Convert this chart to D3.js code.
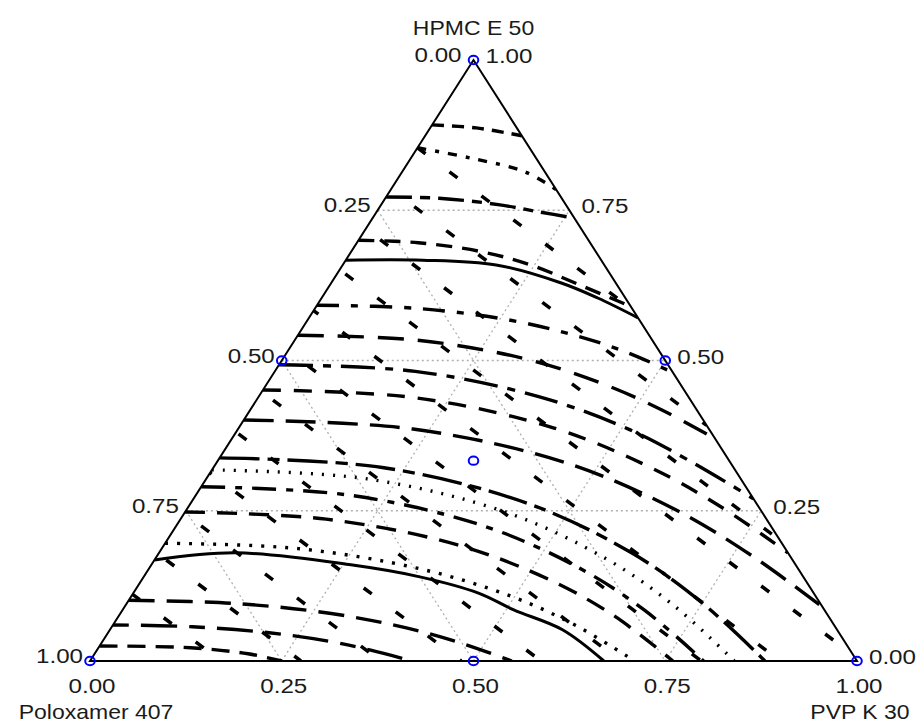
<!DOCTYPE html>
<html>
<head>
<meta charset="utf-8">
<script src="https://cdn.jsdelivr.net/npm/d3@7"></script>
<style>
body { margin: 0; background: #fff; }
svg { display: block; font-family: "Liberation Sans", Arial, sans-serif; }
</style>
</head>
<body>
<svg id="chart" width="917" height="726"></svg>
<script>
// vertex order: bottom-left, top, bottom-right
const componentNames = ["Poloxamer 407", "HPMC E 50", "PVP K 30"];
const tickValues = [0, 0.25, 0.5, 0.75, 1];
const tickLabels = ["0.00", "0.25", "0.50", "0.75", "1.00"];
const gridValues = [0.25, 0.5, 0.75];

// design points as [Poloxamer, HPMC, PVP]
const designPoints = [
    [1, 0, 0], [0, 1, 0], [0, 0, 1],
    [0.5, 0.5, 0], [0, 0.5, 0.5], [0.5, 0, 0.5],
    [1 / 3, 1 / 3, 1 / 3]
];

// contour traces, each point is [PVP, HPMC]
const contours = [
    [[0, .892], [.06, .887], [.126, .874]],
    [[0, .854], [.077, .837], [.16, .814], [.216, .784]],
    [[0, .772], [.07, .77], [.155, .759], [.213, .747], [.263, .737]],
    [[0, .70], [.08, .696], [.17, .681], [.245, .659], [.325, .626], [.41, .59]],
    [[0, .667], [.10, .667], [.20, .659], [.30, .629], [.36, .604], [.429, .571]],
    [[0, .592], [.13, .587], [.26, .568], [.364, .541], [.442, .514], [.52, .48]],
    [[0, .542], [.158, .534], [.315, .503], [.441, .46], [.536, .418], [.63, .37]],
    [[0, .493], [.183, .482], [.365, .44], [.511, .385], [.621, .33], [.73, .27]],
    [[0, .451], [.205, .438], [.41, .388], [.574, .32], [.697, .255], [.82, .18]],
    [[0, .401], [.228, .386], [.455, .33], [.637, .252], [.774, .176], [.91, .09]],
    [[0, .338], [.22, .322], [.44, .262], [.616, .18], [.748, .098], [.88, 0]],
    [[0, .318], [.21, .303], [.42, .247], [.588, .17], [.714, .093], [.84, 0]],
    [[0, .29], [.2, .276], [.4, .225], [.56, .155], [.68, .085], [.80, 0]],
    [[0, .248], [.19, .236], [.38, .194], [.532, .135], [.646, .075], [.76, 0]],
    [[0, .196], [.178, .187], [.355, .153], [.497, .107], [.604, .059], [.71, 0]],
    [[0, .168], [.10, .18], [.26, .16], [.36, .14], [.45, .113], [.51, .085], [.59, .052], [.67, 0]],
    [[0, .101], [.138, .096], [.275, .079], [.385, .055], [.468, .03], [.55, 0]],
    [[0, .06], [.105, .057], [.21, .047], [.294, .033], [.357, .018], [.42, 0]],
    [[0, .025], [.12, .022], [.2, .012], [.25, 0]]
];

// broken diagonal strokes crossing the contours, [PVP, HPMC]
const streaks = [
    [[0, .854], [.416, .584]],
    [[0, .785], [.608, .392]],
    [[0, .719], [.799, .201]],
    [[0, .651], [.99, .01]],
    [[0, .583], [.90, 0]],
    [[0, .516], [.797, 0]],
    [[0, .448], [.692, 0]],
    [[0, .381], [.588, 0]],
    [[0, .313], [.484, 0]],
    [[0, .246], [.379, 0]],
    [[0, .178], [.275, 0]],
    [[0, .111], [.171, 0]]
];

// line styles per contour (null = solid)
const contourDash = ["12,8", "9,9,4,9", "26,8,10,8", "16,10", null, "22,12,7,12", "26,14",
    "34,10,8,10", "18,13", "30,12", "40,8,12,8", "2,9", "24,10,7,10", "20,12", "3,9", null,
    "26,12", "16,12,36,12", "18,10"];

const svg = d3.select("#chart");
const x = d3.scaleLinear().domain([0, 1]).range([90, 857]);
const y = d3.scaleLinear().domain([0, 1]).range([661, 60]);

// [PVP, HPMC] -> screen
function proj(p) {
    return [x(p[0] + p[1] / 2), y(p[1])];
}
// [Poloxamer, HPMC, PVP] -> screen
function projABC(d) {
    return proj([d[2], d[1]]);
}

const corners = [[1, 0, 0], [0, 1, 0], [0, 0, 1]].map(projABC);

svg.append("clipPath").attr("id", "tri")
    .append("polygon").attr("points", corners.map(c => c.join(",")).join(" "));

// grid
const grid = svg.append("g")
    .attr("stroke", "#b0b0b0").attr("stroke-width", 1.3)
    .attr("stroke-dasharray", "2,3").attr("fill", "none");
gridValues.forEach(v => {
    const segs = [
        [[1 - v, v, 0], [0, v, 1 - v]],
        [[v, 1 - v, 0], [v, 0, 1 - v]],
        [[1 - v, 0, v], [0, 1 - v, v]]
    ];
    segs.forEach(s => {
        const a = projABC(s[0]), b = projABC(s[1]);
        grid.append("line")
            .attr("x1", a[0]).attr("y1", a[1])
            .attr("x2", b[0]).attr("y2", b[1]);
    });
});

const line = d3.line()
    .x(d => proj(d)[0])
    .y(d => proj(d)[1])
    .curve(d3.curveCatmullRom.alpha(0.5));

const marks = svg.append("g").attr("clip-path", "url(#tri)");

marks.selectAll(".streak")
    .data(streaks)
    .enter().append("path")
    .attr("class", "streak")
    .attr("d", line)
    .attr("fill", "none")
    .attr("stroke", "#000")
    .attr("stroke-width", 3.5)
    .attr("stroke-dasharray", "10,30")
    .attr("stroke-dashoffset", (d, i) => i * 11);

marks.selectAll(".contour")
    .data(contours)
    .enter().append("path")
    .attr("class", "contour")
    .attr("d", line)
    .attr("fill", "none")
    .attr("stroke", "#000")
    .attr("stroke-width", (d, i) => contourDash[i] ? 3.4 : 3)
    .attr("stroke-dasharray", (d, i) => contourDash[i]);

// triangle outline
svg.append("polygon")
    .attr("points", corners.map(c => c.join(",")).join(" "))
    .attr("fill", "none")
    .attr("stroke", "#000")
    .attr("stroke-width", 2);

// design points
svg.selectAll(".pt")
    .data(designPoints)
    .enter().append("ellipse")
    .attr("class", "pt")
    .attr("cx", d => projABC(d)[0])
    .attr("cy", d => projABC(d)[1])
    .attr("rx", 4.8).attr("ry", 4.2)
    .attr("fill", "none")
    .attr("stroke", "#0000ff")
    .attr("stroke-width", 2);

function label(px, py, txt, anchor, size) {
    svg.append("text")
        .attr("transform", "translate(" + px + "," + py + ") scale(1.15,1)")
        .attr("text-anchor", anchor)
        .attr("font-size", size || 21)
        .attr("fill", "#1a1a1a")
        .text(txt);
}

tickValues.forEach((v, i) => {
    // left edge: Poloxamer
    let p = projABC([v, 1 - v, 0]);
    label(p[0] - (v === 0 ? 12 : 7), p[1] + 2, tickLabels[i], "end");
    // right edge: HPMC
    p = projABC([0, v, 1 - v]);
    label(p[0] + 12, p[1] + 3, tickLabels[i], "start");
    // bottom edge: PVP
    p = projABC([1 - v, 0, v]);
    label(p[0] + 2, p[1] + 32, tickLabels[i], "middle");
});

label(corners[1][0], corners[1][1] - 25, componentNames[1], "middle", 20);
label(corners[0][0] + 6, corners[0][1] + 58, componentNames[0], "middle", 20);
label(corners[2][0] + 3, corners[2][1] + 58, componentNames[2], "middle", 20);
</script>
</body>
</html>
